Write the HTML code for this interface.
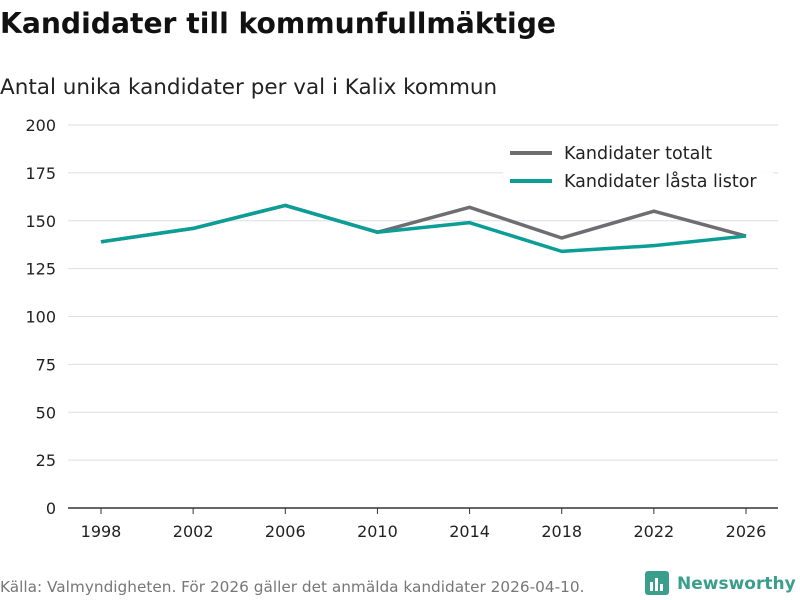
<!DOCTYPE html>
<html><head><meta charset="utf-8"><style>
body{margin:0;background:#fff;font-family:"DejaVu Sans","Liberation Sans",sans-serif;}
#wrap{position:relative;width:800px;height:600px;overflow:hidden;}
</style></head><body>
<div id="wrap">
<svg id="chart" width="800" height="600" xmlns="http://www.w3.org/2000/svg">
<text x="0" y="33" font-size="28.2" font-weight="bold" fill="#111">Kandidater till kommunfullmäktige</text>
<text x="0" y="94" font-size="21.5" fill="#222">Antal unika kandidater per val i Kalix kommun</text>
<g id="grid"></g><g id="lines"></g>
<g>
<rect x="503" y="140" width="270" height="58" fill="#fff" opacity="0.85"/>
<line x1="510" y1="153" x2="552" y2="153" stroke="#6e6d72" stroke-width="4"/>
<text x="564" y="159" font-size="17.5" fill="#222">Kandidater totalt</text>
<line x1="510" y1="181" x2="552" y2="181" stroke="#0a9e96" stroke-width="4"/>
<text x="564" y="187" font-size="17.5" fill="#222">Kandidater låsta listor</text>
</g>
<text x="0" y="592" font-size="15.3" fill="#777">Källa: Valmyndigheten. För 2026 gäller det anmälda kandidater 2026-04-10.</text>
<g>
<rect x="645" y="571" width="24" height="24" rx="3" fill="#3a9e8c"/>
<rect x="650" y="582" width="3" height="9" fill="#fff"/><rect x="655" y="578" width="3" height="13" fill="#fff"/><rect x="660" y="584" width="3" height="7" fill="#fff"/>
<text x="677" y="589" font-size="17" font-weight="bold" fill="#3a9e8c">Newsworthy</text>
</g>
</svg>
<script>
const years=[1998,2002,2006,2010,2014,2018,2022,2026];
const totalt=[139,146,158,144,157,141,155,142];
const lasta=[139,146,158,144,149,134,137,142];
const yTicks=[0,25,50,75,100,125,150,175,200];
const NS="http://www.w3.org/2000/svg";
const X=v=>101+(v-1998)*(746-101)/28;
const Y=v=>508-v*(508-125)/200;
const grid=document.getElementById('grid');
function mk(t,a,p){const e=document.createElementNS(NS,t);for(const k in a)e.setAttribute(k,a[k]);p.appendChild(e);return e;}
yTicks.forEach(t=>{
 const l=mk('line',{x1:68,x2:778,y1:Y(t),y2:Y(t),stroke:t===0?'#333':'#ddd','stroke-width':t===0?1.5:1},grid);
 
 
 const tx=mk('text',{x:56,y:Y(t)+6,'text-anchor':'end','font-size':16,fill:'#222'},grid);tx.textContent=t;
 
 
});
years.forEach(y=>{
 const tk=mk('line',{x1:X(y),x2:X(y),y1:508,y2:514,stroke:'#333'},grid);
 
 
 const tx=mk('text',{x:X(y),y:537,'text-anchor':'middle','font-size':16,fill:'#222'},grid);tx.textContent=y;
 
 
});
const lines=document.getElementById('lines');
[[totalt,'#6e6d72','line-totalt'],[lasta,'#0a9e96','line-lasta']].forEach(([d,c,n])=>{
 const p=mk('polyline',{points:d.map((v,i)=>X(years[i])+','+Y(v)).join(' '),fill:'none',stroke:c,'stroke-width':3.5,'stroke-linejoin':'round'},lines);
 
 
});
</script>
</div>
</body></html>
